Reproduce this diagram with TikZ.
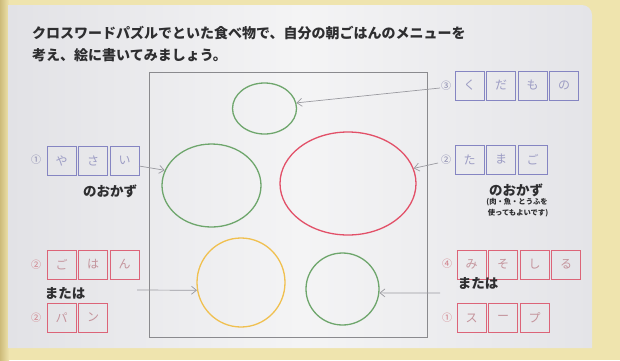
\documentclass[tikz,border=0pt]{standalone}
\usepackage{fontspec}
\newfontfamily\cjk{Noto Sans CJK JP}
\usetikzlibrary{shapes.geometric,arrows.meta}
\definecolor{cream}{HTML}{EFE4AE}
\definecolor{creamdark}{HTML}{CDBB7A}
\definecolor{panelL}{HTML}{E2E2E6}
\definecolor{panelM}{HTML}{F4F4F5}
\definecolor{panelR}{HTML}{E4E4E8}
\definecolor{framegray}{HTML}{8A8A8E}
\definecolor{arrowgray}{HTML}{9A9AA0}
\definecolor{boxblue}{HTML}{8585C2}
\definecolor{boxred}{HTML}{DC6478}
\definecolor{kanablue}{HTML}{9C9CC4}
\definecolor{kanared}{HTML}{C4949C}
\definecolor{numblue}{HTML}{8686AC}
\definecolor{numred}{HTML}{D07C86}
\definecolor{plategreen}{HTML}{6EA66C}
\definecolor{platered}{HTML}{E25068}
\definecolor{plateyellow}{HTML}{F0C050}
\definecolor{ink}{HTML}{2E2E30}
\tikzset{
  kbox/.style={draw=#1, line width=0.9pt, minimum width=29pt, minimum height=29pt, inner sep=0pt,
    font=\cjk\fontsize{12}{12}\selectfont},
  bbox/.style={kbox=boxblue, text=kanablue},
  rbox/.style={kbox=boxred, text=kanared},
  numb/.style={font=\cjk\fontsize{10}{10}\selectfont, inner sep=0pt, text=numblue},
  numr/.style={font=\cjk\fontsize{10}{10}\selectfont, inner sep=0pt, text=numred},
  plate/.style={ellipse, draw=#1, line width=1.3pt, inner sep=0pt},
  arr/.style={draw=arrowgray, line width=0.7pt, -{Straight Barb[length=5pt,width=8pt]}},
  title/.style={anchor=west, inner sep=0pt, text=ink, font=\cjk\bfseries\fontsize{14}{14}\selectfont},
  label/.style={inner sep=0pt, text=ink, font=\cjk\bfseries\fontsize{13.5}{13.5}\selectfont},
  small/.style={inner sep=0pt, text=ink, font=\cjk\bfseries\fontsize{7.3}{7.3}\selectfont}
}
\begin{document}
\begin{tikzpicture}[x=1pt,y=-1pt]
\useasboundingbox (0,0) rectangle (620,360);
% background
\fill[cream] (0,0) rectangle (620,360);
\shade[left color=creamdark, right color=cream] (0,0) rectangle (9,360);
\shade[left color=panelL, right color=panelR, middle color=panelM]
  (8,5) -- (582,5) arc[start angle=90, end angle=0, radius=10pt] -- (592,348) -- (8,348) -- cycle;
% title
\node[title] (t1) at (32,33) {クロスワードパズルでといた食べ物で、自分の朝ごはんのメニューを};
\node[title] (t2) at (32,55) {考え、絵に書いてみましょう。};
% frame
\node[draw=framegray, line width=0.9pt, minimum width=278pt, minimum height=265pt, inner sep=0pt] (frame) at (288,204.5) {};
% plates
\node[plate=plategreen, minimum width=64pt, minimum height=51pt] (fruit) at (264.5,108.5) {};
\node[plate=plategreen, minimum width=99pt, minimum height=83pt] (veg) at (211.5,185.5) {};
\node[plate=platered, minimum width=136pt, minimum height=103pt] (main) at (348,183.5) {};
\node[plate=plateyellow, minimum width=88pt, minimum height=89pt] (rice) at (241,282.5) {};
\node[plate=plategreen, minimum width=73pt, minimum height=72pt] (soup) at (342.5,289) {};
% right: kudamono
\node[numb] (n3) at (446,86) {③};
\node[bbox] (ku1) at (469.5,85.5) {く};
\node[bbox] (ku2) at (501,85.5) {だ};
\node[bbox] (ku3) at (532.5,85.5) {も};
\node[bbox] (ku4) at (564,85.5) {の};
% right: tamago
\node[numb] (n2r) at (446,160) {②};
\node[bbox] (ta1) at (469.5,159.5) {た};
\node[bbox] (ta2) at (501,159.5) {ま};
\node[bbox] (ta3) at (532.5,159.5) {ご};
\node[label] (okR) at (516,190) {のおかず};
\node[small] (sm1) at (517,202) {(肉・魚・とうふを};
\node[small] (sm2) at (518,213) {使ってもよいです)};
% right: misoshiru / soup
\node[numr] (n4) at (447,264) {④};
\node[rbox] (mi1) at (471.5,264.5) {み};
\node[rbox] (mi2) at (503,264.5) {そ};
\node[rbox] (mi3) at (534.5,264.5) {し};
\node[rbox] (mi4) at (566,264.5) {る};
\node[label] (mtR) at (478,283) {または};
\node[numr] (n1r) at (447,318) {①};
\node[rbox] (su1) at (471.5,318) {ス};
\node[rbox] (su2) at (503,318) {ー};
\node[rbox] (su3) at (534.5,318) {プ};
% left: yasai
\node[numb] (n1l) at (36,160) {①};
\node[bbox] (ya1) at (61.5,160.5) {や};
\node[bbox] (ya2) at (93,160.5) {さ};
\node[bbox] (ya3) at (124.5,160.5) {い};
\node[label] (okL) at (110,191) {のおかず};
% left: gohan / pan
\node[numr] (n2g) at (36,265) {②};
\node[rbox] (go1) at (61.5,264.5) {ご};
\node[rbox] (go2) at (93,264.5) {は};
\node[rbox] (go3) at (124.5,264.5) {ん};
\node[label] (mtL) at (65,293) {または};
\node[numr] (n2p) at (36,317.5) {②};
\node[rbox] (pa1) at (61.5,317.5) {パ};
\node[rbox] (pa2) at (93,317.5) {ン};
% arrows
\coordinate (sTop) at (440,88);
\coordinate (sMain) at (438,163);
\coordinate (sSoup) at (440,293);
\coordinate (sVeg) at (139,166);
\coordinate (sRice) at (137,290);
\draw[arr] (sTop) -- (fruit.10);
\draw[arr] (sVeg) -- (veg.162);
\draw[arr] (sMain) -- (main.13);
\draw[arr] (sRice) -- (rice.190);
\draw[arr] (sSoup) -- (soup.-6);
\end{tikzpicture}
\end{document}
